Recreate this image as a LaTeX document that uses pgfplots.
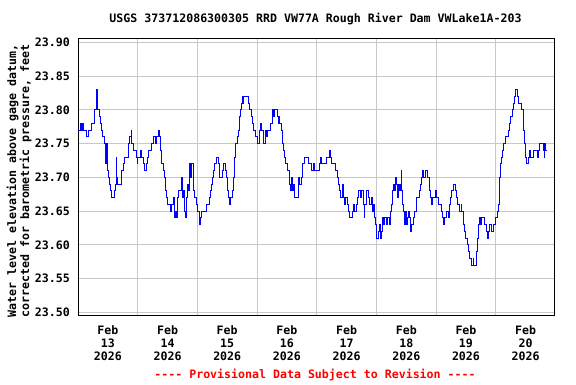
\documentclass[border=0pt]{standalone}
\usepackage{pgfplots}
\pgfplotsset{compat=1.18}
\usepackage{fontspec}
\newfontfamily\usgs{DejaVu Sans Mono}
\newcommand\uf{\usgs\bfseries\fontsize{11.6bp}{13bp}\selectfont}
\definecolor{gridgray}{RGB}{200,200,200}
\definecolor{lineblue}{RGB}{0,0,255}
\definecolor{provred}{RGB}{255,0,0}
\begin{document}
\begin{tikzpicture}[x=1bp,y=1bp]
\path[use as bounding box] (0,0) rectangle (576,384);
\begin{axis}[
  at={(78bp,69bp)}, anchor=south west,
  scale only axis, width=476bp, height=276bp,
  xmin=13, xmax=20.975, ymin=23.496, ymax=23.905,
  xtick={13.5,14.5,15.5,16.5,17.5,18.5,19.5,20.5},
  xticklabels={Feb\\13\\2026,Feb\\14\\2026,Feb\\15\\2026,Feb\\16\\2026,Feb\\17\\2026,Feb\\18\\2026,Feb\\19\\2026,Feb\\20\\2026},
  minor xtick={14,15,16,17,18,19,20},
  xminorgrids, xmajorgrids=false,
  ytick={23.50,23.55,23.60,23.65,23.70,23.75,23.80,23.85,23.90},
  yticklabels={23.50,23.55,23.60,23.65,23.70,23.75,23.80,23.85,23.90},
  ymajorgrids,
  major tick length=0pt, minor tick length=0pt,
  grid style={gridgray, line width=1bp},
  minor grid style={gridgray, line width=1bp},
  axis line style={black, line width=1bp},
  xticklabel style={font=\uf, align=center, inner sep=0pt, yshift=-10bp, anchor=north},
  yticklabel style={font=\uf, inner sep=0pt, xshift=-8bp, anchor=east},
  clip=true,
]
\addplot[const plot, lineblue, line width=1bp] coordinates {
(13.000,23.77)(13.039,23.78)(13.061,23.77)(13.078,23.78)(13.095,23.77)(13.140,23.76)(13.168,23.77)(13.223,23.78)(13.279,23.80)(13.318,23.83)(13.330,23.80)(13.352,23.79)(13.374,23.78)(13.391,23.77)(13.408,23.76)(13.436,23.75)(13.453,23.74)(13.469,23.72)(13.480,23.75)(13.492,23.71)(13.514,23.70)(13.531,23.69)(13.547,23.68)(13.559,23.67)(13.609,23.68)(13.626,23.69)(13.637,23.73)(13.648,23.70)(13.665,23.69)(13.721,23.70)(13.737,23.71)(13.754,23.72)(13.777,23.73)(13.844,23.75)(13.866,23.76)(13.888,23.77)(13.899,23.75)(13.933,23.74)(13.972,23.73)(13.989,23.72)(14.000,23.73)(14.050,23.74)(14.061,23.73)(14.089,23.72)(14.112,23.71)(14.140,23.72)(14.156,23.73)(14.184,23.74)(14.223,23.75)(14.268,23.76)(14.291,23.75)(14.313,23.76)(14.341,23.77)(14.363,23.76)(14.380,23.74)(14.397,23.72)(14.425,23.71)(14.453,23.70)(14.469,23.68)(14.486,23.67)(14.503,23.66)(14.553,23.65)(14.570,23.66)(14.592,23.67)(14.609,23.64)(14.626,23.65)(14.642,23.64)(14.659,23.67)(14.676,23.68)(14.726,23.70)(14.743,23.67)(14.760,23.68)(14.782,23.65)(14.799,23.64)(14.816,23.67)(14.832,23.69)(14.855,23.68)(14.872,23.72)(14.888,23.70)(14.905,23.72)(14.927,23.68)(14.955,23.67)(14.983,23.66)(15.000,23.65)(15.028,23.63)(15.050,23.64)(15.067,23.65)(15.156,23.66)(15.196,23.67)(15.218,23.68)(15.235,23.69)(15.251,23.70)(15.274,23.71)(15.291,23.72)(15.318,23.73)(15.346,23.72)(15.374,23.70)(15.419,23.71)(15.441,23.72)(15.464,23.71)(15.486,23.70)(15.503,23.68)(15.525,23.67)(15.542,23.66)
(15.553,23.67)(15.587,23.68)(15.598,23.70)(15.615,23.71)(15.626,23.73)(15.642,23.75)(15.665,23.76)(15.682,23.77)(15.698,23.79)(15.721,23.80)(15.737,23.81)(15.754,23.82)(15.765,23.81)(15.777,23.82)(15.849,23.81)(15.877,23.80)(15.905,23.79)(15.922,23.78)(15.944,23.77)(15.978,23.76)(16.000,23.75)(16.034,23.77)(16.062,23.78)(16.078,23.77)(16.101,23.76)(16.112,23.75)(16.134,23.77)(16.156,23.76)(16.168,23.77)(16.223,23.78)(16.251,23.80)(16.268,23.79)(16.285,23.80)(16.335,23.79)(16.352,23.78)(16.369,23.79)(16.380,23.78)(16.408,23.77)(16.425,23.75)(16.447,23.74)(16.464,23.73)(16.480,23.72)(16.503,23.71)(16.536,23.70)(16.547,23.69)(16.559,23.68)(16.575,23.70)(16.592,23.68)(16.615,23.69)(16.631,23.67)(16.687,23.70)(16.715,23.69)(16.743,23.70)(16.760,23.72)(16.788,23.73)(16.855,23.72)(16.911,23.71)(16.939,23.72)(16.966,23.71)(17.039,23.72)(17.061,23.73)(17.078,23.72)(17.162,23.73)(17.207,23.74)(17.229,23.73)(17.246,23.72)(17.318,23.71)(17.341,23.70)(17.358,23.69)(17.374,23.68)(17.397,23.67)(17.425,23.69)(17.441,23.67)(17.464,23.66)(17.480,23.67)(17.508,23.66)(17.531,23.65)(17.553,23.64)(17.598,23.65)(17.620,23.66)(17.637,23.65)(17.665,23.66)(17.682,23.67)(17.704,23.68)(17.732,23.67)(17.749,23.68)(17.777,23.66)(17.793,23.64)(17.804,23.66)(17.832,23.68)(17.860,23.67)(17.888,23.66)(17.916,23.67)(17.933,23.65)(17.955,23.66)(17.972,23.64)(17.989,23.63)(18.006,23.61)(18.028,23.62)(18.056,23.63)(18.067,23.61)(18.084,23.62)(18.101,23.64)(18.123,23.63)(18.140,23.64)(18.168,23.63)(18.179,23.64)(18.212,23.63)(18.235,23.65)
(18.252,23.66)(18.269,23.68)(18.291,23.69)(18.308,23.68)(18.325,23.70)(18.336,23.69)(18.347,23.67)(18.364,23.69)(18.380,23.68)(18.403,23.69)(18.420,23.71)(18.425,23.68)(18.436,23.66)(18.459,23.65)(18.470,23.63)(18.487,23.65)(18.503,23.63)(18.520,23.64)(18.537,23.65)(18.548,23.64)(18.570,23.63)(18.576,23.62)(18.593,23.63)(18.615,23.64)(18.632,23.65)(18.671,23.67)(18.716,23.68)(18.738,23.69)(18.755,23.70)(18.771,23.71)(18.794,23.70)(18.827,23.71)(18.850,23.70)(18.883,23.68)(18.906,23.67)(18.922,23.66)(18.939,23.67)(18.989,23.68)(19.006,23.67)(19.034,23.66)(19.090,23.65)(19.107,23.64)(19.129,23.63)(19.146,23.64)(19.174,23.65)(19.202,23.64)(19.218,23.66)(19.241,23.67)(19.258,23.68)(19.297,23.69)(19.325,23.68)(19.341,23.67)(19.364,23.66)(19.386,23.65)(19.420,23.66)(19.431,23.65)(19.453,23.63)(19.475,23.62)(19.498,23.61)(19.520,23.60)(19.537,23.59)(19.554,23.58)(19.587,23.57)(19.621,23.58)(19.632,23.57)(19.677,23.59)(19.693,23.61)(19.710,23.63)(19.721,23.64)(19.738,23.63)(19.766,23.64)(19.816,23.63)(19.844,23.62)(19.861,23.61)(19.878,23.62)(19.900,23.63)(19.928,23.62)(19.956,23.63)(20.001,23.64)(20.023,23.65)(20.040,23.66)(20.056,23.68)(20.068,23.70)(20.079,23.72)(20.095,23.73)(20.112,23.74)(20.135,23.75)(20.157,23.76)(20.207,23.77)(20.224,23.78)(20.252,23.79)(20.280,23.80)(20.302,23.81)(20.319,23.82)(20.336,23.83)(20.358,23.82)(20.375,23.81)(20.436,23.80)(20.458,23.79)(20.470,23.77)(20.487,23.75)(20.503,23.73)(20.520,23.72)(20.542,23.73)(20.559,23.74)(20.581,23.73)(20.637,23.74)(20.699,23.73)(20.721,23.74)(20.738,23.75)(20.794,23.74)(20.810,23.73)(20.822,23.75)(20.838,23.74)(20.861,23.74)
};
\end{axis}
\node[font=\uf, inner sep=0pt] at (315.5,365) {USGS 373712086300305 RRD VW77A Rough River Dam VWLake1A-203};
\node[font=\uf, inner sep=0pt, rotate=90, align=center] at (19,203) {Water level elevation above gage datum,\\corrected for barometric pressure, feet};
\node[font=\uf, inner sep=0pt, text=provred] at (315,9) {---- Provisional Data Subject to Revision ----};
\end{tikzpicture}
\end{document}
